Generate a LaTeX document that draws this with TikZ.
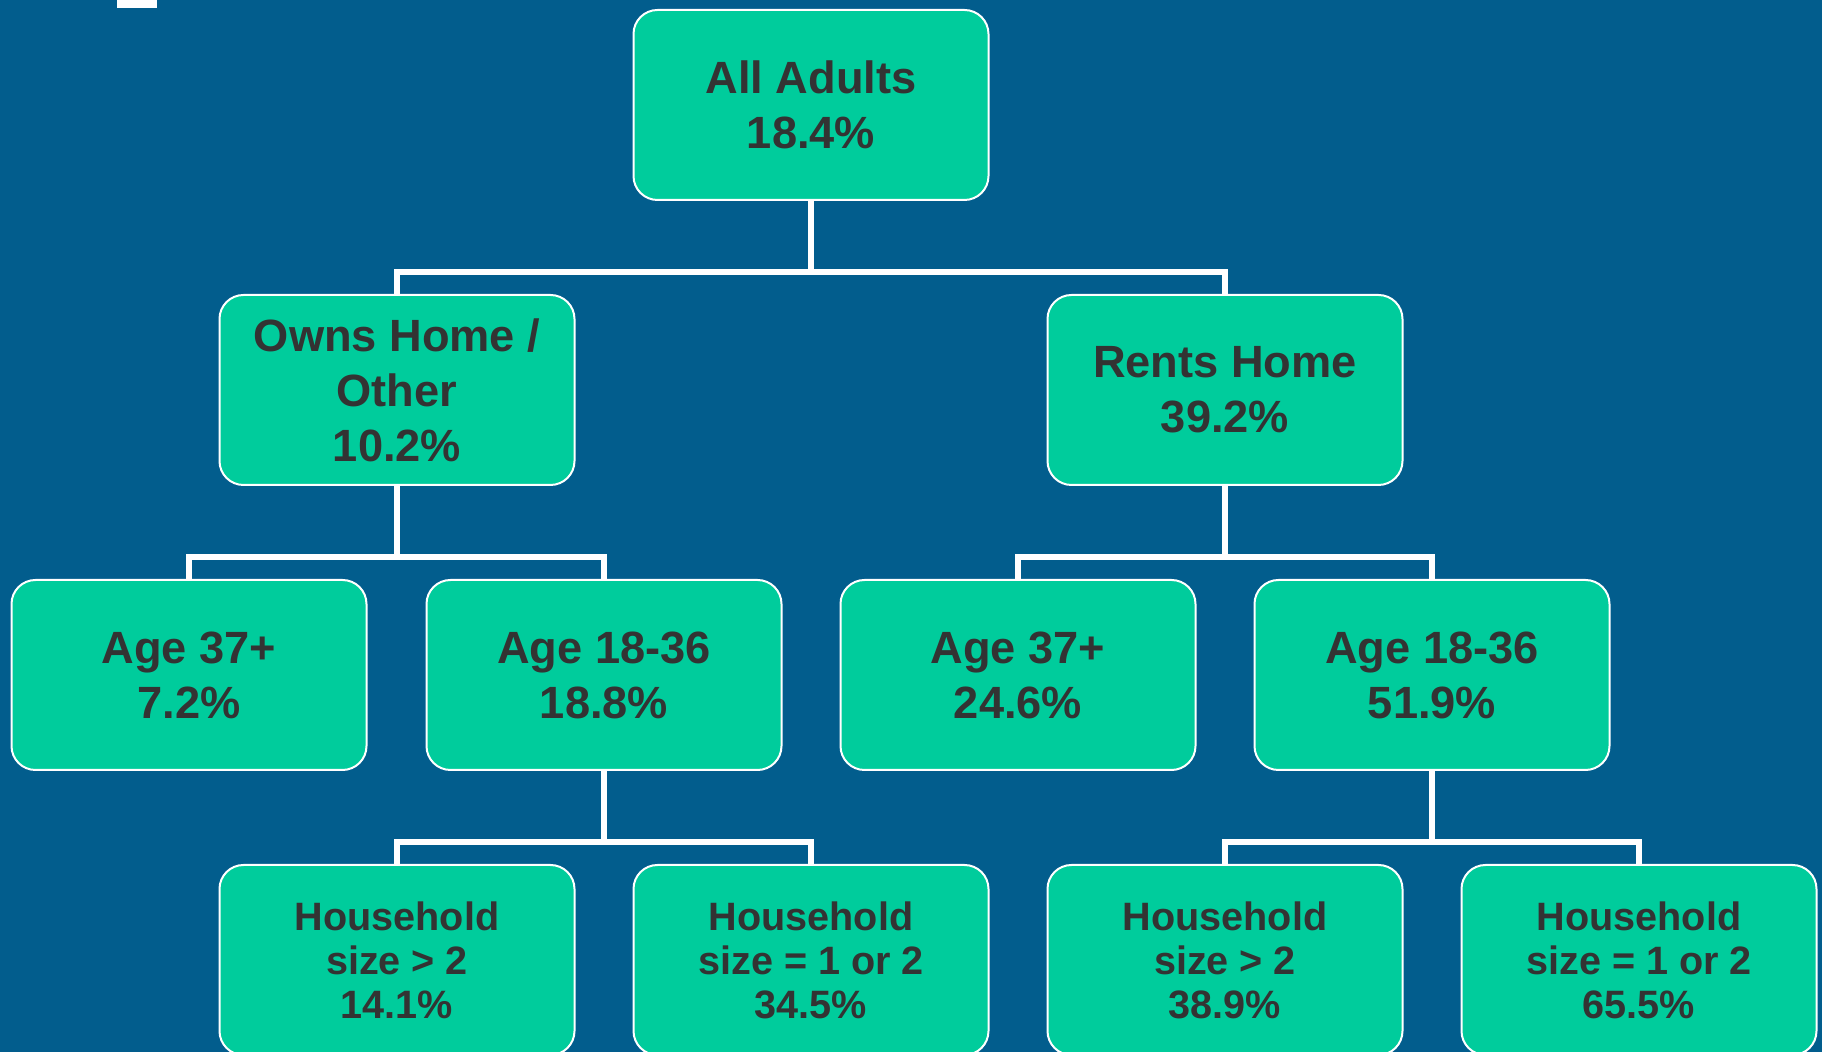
\documentclass[tikz,border=0pt]{standalone}
\usepackage{fontspec}
\setmainfont{Liberation Sans}
\usepackage{xcolor}
\usepackage{tikz}

\definecolor{bgblue}{HTML}{025D8D}
\definecolor{boxgreen}{HTML}{00CC9C}
\definecolor{boxtext}{HTML}{333333}

\begin{document}
\begin{tikzpicture}[x=0.5pt,y=-0.5pt,
    box/.style={draw=white, line width=1pt, fill=boxgreen, rounded corners=12pt,
        minimum width=177.5pt, minimum height=95pt, align=center, text=boxtext,
        font=\fontsize{22.6}{27.5}\selectfont\bfseries},
    smallbox/.style={box, font=\fontsize{19.8}{22}\selectfont\bfseries},
    link/.style={draw=white, line width=2.8pt}]
                % Background
                \clip (0,0) rectangle (1822,1052);
                \fill[bgblue] (0,0) rectangle (1822,1052);
                \fill[white] (117,0) rectangle (157,8);
                % Root
                \node[box] (all) at (811,105) {All Adults\\18.4\%};
                % Home
                \node[box] (own) at (397,390) {Owns Home /\\Other\\10.2\%};
                \node[box] (rent) at (1225,390) {Rents Home\\39.2\%};
                % Age
                \foreach \x/\name/\lab in {189/ownold/Age 37+\\7.2\%, 604/ownyoung/Age 18-36\\18.8\%,
                                           1018/rentold/Age 37+\\24.6\%, 1432/rentyoung/Age 18-36\\51.9\%} {
                    \node[box] (\name) at (\x,675) {\lab};
                }
                % Household size
                \foreach \x/\name/\lab in {397/ownbig/size > 2\\14.1\%, 811/ownsmall/size = 1 or 2\\34.5\%,
                                           1225/rentbig/size > 2\\38.9\%, 1639/rentsmall/size = 1 or 2\\65.5\%} {
                    \node[smallbox] (\name) at (\x,960) {Household\\\lab};
                }
                % Links
                \foreach \p/\c in {all/own, all/rent, own/ownold, own/ownyoung, rent/rentold, rent/rentyoung,
                                   ownyoung/ownbig, ownyoung/ownsmall, rentyoung/rentbig, rentyoung/rentsmall} {
                    \draw[link] (\p.south) -- ++(0,71) -| (\c.north);
                }
\end{tikzpicture}
\end{document}
